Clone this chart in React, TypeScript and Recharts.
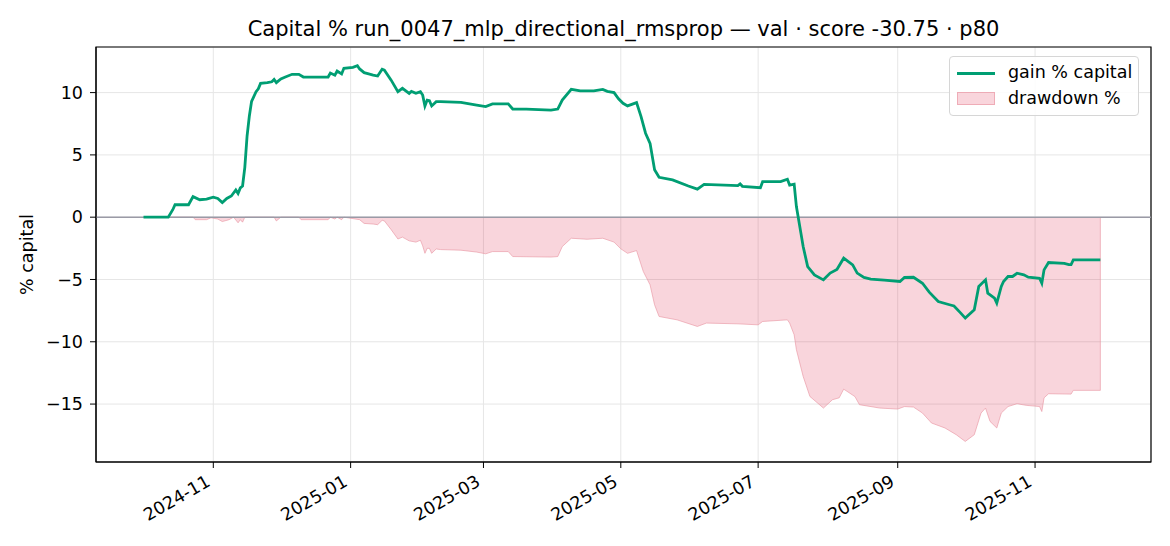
import React from "react";
import {
  ComposedChart,
  Line,
  Area,
  XAxis,
  YAxis,
  CartesianGrid,
  ReferenceLine,
  ReferenceArea,
} from "recharts";

// gain line
const GAIN_DATES = [
  "2024-10-01", "2024-10-12", "2024-10-14", "2024-10-15", "2024-10-21", "2024-10-23", "2024-10-26", "2024-10-29",
  "2024-11-01", "2024-11-03", "2024-11-05", "2024-11-07", "2024-11-09", "2024-11-11", "2024-11-12", "2024-11-13",
  "2024-11-14", "2024-11-15", "2024-11-16", "2024-11-17", "2024-11-18", "2024-11-20", "2024-11-21", "2024-11-22",
  "2024-11-25", "2024-11-27", "2024-11-28", "2024-11-29", "2024-12-01", "2024-12-03", "2024-12-06", "2024-12-09",
  "2024-12-11", "2024-12-22", "2024-12-23", "2024-12-25", "2024-12-26", "2024-12-28", "2024-12-29", "2025-01-02",
  "2025-01-04", "2025-01-05", "2025-01-07", "2025-01-09", "2025-01-11", "2025-01-13", "2025-01-15", "2025-01-16",
  "2025-01-19", "2025-01-22", "2025-01-24", "2025-01-27", "2025-01-28", "2025-01-30", "2025-02-01", "2025-02-02",
  "2025-02-03", "2025-02-04", "2025-02-05", "2025-02-06", "2025-02-08", "2025-02-10", "2025-02-19", "2025-02-26",
  "2025-03-02", "2025-03-05", "2025-03-12", "2025-03-14", "2025-03-20", "2025-03-31", "2025-04-03", "2025-04-05",
  "2025-04-09", "2025-04-13", "2025-04-19", "2025-04-23", "2025-04-25", "2025-04-28", "2025-04-30", "2025-05-02",
  "2025-05-04", "2025-05-08", "2025-05-10", "2025-05-12", "2025-05-14", "2025-05-16", "2025-05-18", "2025-05-24",
  "2025-05-31", "2025-06-04", "2025-06-07", "2025-06-22", "2025-06-23", "2025-06-24", "2025-07-02", "2025-07-03",
  "2025-07-11", "2025-07-14", "2025-07-15", "2025-07-17", "2025-07-18", "2025-07-20", "2025-07-21", "2025-07-23",
  "2025-07-26", "2025-07-30", "2025-08-02", "2025-08-05", "2025-08-08", "2025-08-12", "2025-08-14", "2025-08-17",
  "2025-08-20", "2025-08-26", "2025-09-02", "2025-09-04", "2025-09-08", "2025-09-12", "2025-09-15", "2025-09-19",
  "2025-09-24", "2025-09-26", "2025-09-29", "2025-10-01", "2025-10-05", "2025-10-07", "2025-10-10", "2025-10-11",
  "2025-10-14", "2025-10-15", "2025-10-17", "2025-10-18", "2025-10-20", "2025-10-22", "2025-10-24", "2025-10-27",
  "2025-10-29", "2025-11-03", "2025-11-04", "2025-11-05", "2025-11-07", "2025-11-14", "2025-11-16", "2025-11-17",
  "2025-11-18", "2025-11-30",
];
const GAIN_PCT = [
  0, 0, 0.6, 1.0, 1.0, 1.65, 1.4, 1.45,
  1.6, 1.5, 1.17, 1.5, 1.7, 2.19, 1.9, 2.35,
  2.5, 4.0, 6.5, 8.1, 9.3, 10.07, 10.3, 10.74,
  10.8, 10.87, 11.05, 10.8, 11.1, 11.25, 11.47, 11.47,
  11.25, 11.25, 11.57, 11.4, 11.73, 11.5, 11.95, 12.03,
  12.16, 11.9, 11.6, 11.5, 11.4, 11.33, 11.87, 11.8,
  11.0, 10.07, 10.34, 9.94, 10.1, 9.94, 10.07, 9.8,
  8.93, 9.4, 9.35, 8.93, 9.27, 9.27, 9.22, 9.0,
  8.88, 9.09, 9.09, 8.68, 8.68, 8.6, 8.68, 9.4,
  10.26, 10.14, 10.14, 10.26, 10.1, 10.0, 9.5, 9.14,
  8.93, 9.2, 8.07, 6.74, 5.93, 3.8, 3.2, 2.99,
  2.5, 2.25, 2.64, 2.54, 2.68, 2.48, 2.37, 2.85,
  2.85, 3.05, 2.58, 2.65, 0.85, -1.28, -2.36, -3.96,
  -4.63, -5.03, -4.49, -4.2, -3.29, -3.83, -4.49, -4.84,
  -4.97, -5.05, -5.16, -4.84, -4.82, -5.3, -6.02, -6.77,
  -7.03, -7.13, -7.7, -8.1, -7.43, -5.56, -5.03, -6.1,
  -6.5, -6.9, -5.56, -5.16, -4.76, -4.76, -4.5, -4.63,
  -4.82, -4.9, -5.3, -4.23, -3.64, -3.7, -3.8, -3.8,
  -3.42, -3.42,
];

// drawdown fill
const DD_DATES = [
  "2024-10-01", "2024-10-23", "2024-10-24", "2024-10-29", "2024-10-31", "2024-11-03", "2024-11-05", "2024-11-08",
  "2024-11-10", "2024-11-12", "2024-11-13", "2024-11-14", "2024-11-15", "2024-11-28", "2024-11-29", "2024-12-01",
  "2024-12-09", "2024-12-10", "2024-12-22", "2024-12-23", "2024-12-25", "2024-12-26", "2024-12-28", "2024-12-29",
  "2025-01-05", "2025-01-07", "2025-01-11", "2025-01-13", "2025-01-15", "2025-01-16", "2025-01-19", "2025-01-22",
  "2025-01-24", "2025-01-27", "2025-01-30", "2025-02-01", "2025-02-02", "2025-02-03", "2025-02-04", "2025-02-05",
  "2025-02-06", "2025-02-08", "2025-02-10", "2025-02-19", "2025-02-26", "2025-03-02", "2025-03-05", "2025-03-12",
  "2025-03-14", "2025-03-31", "2025-04-03", "2025-04-05", "2025-04-09", "2025-04-16", "2025-04-23", "2025-04-28",
  "2025-05-01", "2025-05-04", "2025-05-08", "2025-05-11", "2025-05-14", "2025-05-16", "2025-05-18", "2025-05-26",
  "2025-06-04", "2025-06-08", "2025-06-22", "2025-07-01", "2025-07-03", "2025-07-14", "2025-07-15", "2025-07-17",
  "2025-07-18", "2025-07-21", "2025-07-24", "2025-07-30", "2025-08-03", "2025-08-06", "2025-08-08", "2025-08-13",
  "2025-08-15", "2025-08-24", "2025-09-01", "2025-09-04", "2025-09-08", "2025-09-12", "2025-09-16", "2025-09-22",
  "2025-09-27", "2025-10-01", "2025-10-05", "2025-10-08", "2025-10-10", "2025-10-12", "2025-10-15", "2025-10-17",
  "2025-10-20", "2025-10-24", "2025-10-28", "2025-11-03", "2025-11-04", "2025-11-05", "2025-11-07", "2025-11-17",
  "2025-11-18", "2025-11-30", "2025-11-30",
];
const DD_PCT = [
  0, 0, -0.2, -0.2, -0.05, -0.15, -0.35, -0.2,
  0, -0.45, -0.2, -0.4, 0, 0, -0.3, 0,
  0, -0.2, -0.2, 0, -0.15, 0, -0.2, 0,
  -0.2, -0.5, -0.55, -0.6, -0.25, -0.3, -1.0, -1.75,
  -1.6, -1.9, -2.0, -1.85, -2.3, -2.9, -2.5, -2.5,
  -2.9, -2.55, -2.6, -2.65, -2.8, -2.94, -2.76, -2.76,
  -3.16, -3.2, -3.16, -2.36, -1.69, -1.77, -1.69, -2.0,
  -2.54, -2.9, -2.68, -4.36, -5.43, -7.03, -7.97, -8.24,
  -8.77, -8.5, -8.56, -8.64, -8.37, -8.24, -8.5, -9.44,
  -10.64, -12.78, -14.39, -15.32, -14.65, -14.5, -13.8, -14.4,
  -15.05, -15.32, -15.4, -15.2, -15.24, -15.72, -16.52, -16.92,
  -17.46, -18.0, -17.46, -15.72, -15.32, -16.39, -16.92, -15.72,
  -15.2, -14.97, -15.1, -15.2, -15.6, -14.5, -14.17, -14.2,
  -13.9, -13.9, 0,
];

const X_TICKS = ["2024-11-01", "2025-01-01", "2025-03-01", "2025-05-01", "2025-07-01", "2025-09-01", "2025-11-01"];
const Y_TICKS = [-15, -10, -5, 0, 5, 10];

const DAY = 86400000;
const ts = (s: string) => Date.parse(s + "T00:00:00Z");

const gainRows = GAIN_DATES.map((d, i) => ({ t: ts(d), gain: GAIN_PCT[i] }));
const ddRows = DD_DATES.map((d, i) => ({ t: ts(d), dd: DD_PCT[i] }));

const X_MIN = ts("2024-11-01") - 52.1 * DAY;
const X_MAX = ts("2025-11-01") + 51.5 * DAY;
const Y_MIN = -19.65;
const Y_MAX = 13.66;

const GREEN = "#009E73";
const FONT = "'DejaVu Sans', sans-serif";

const monthLabel = (v: number) => {
  const d = new Date(v);
  return `${d.getUTCFullYear()}-${String(d.getUTCMonth() + 1).padStart(2, "0")}`;
};
const yLabel = (v: number) => (v < 0 ? `\u2212${Math.abs(v)}` : `${v}`);

function DateTick(props: any) {
  const { x, y, payload } = props;
  const ax = x - 2;
  const ay = y + 15;
  return (
    <text x={ax} y={ay} textAnchor="end" fontSize={17.5} fill="#000" fontFamily={FONT}
      transform={`rotate(-30 ${ax} ${ay})`}>
      {monthLabel(payload.value)}
    </text>
  );
}

function YTitle() {
  return (
    <text x={33} y={254.5} textAnchor="middle" fontSize={17.5} fill="#000" fontFamily={FONT}
      transform="rotate(-90 33 254.5)">
      % capital
    </text>
  );
}

export default function App() {
  return (
    <div style={{ position: "absolute", left: 0, top: 0, width: 1170, height: 546, background: "#fff", fontFamily: FONT }}>
      <div style={{ position: "absolute", left: 96, top: 19, width: 1055, textAlign: "center", fontSize: 21, lineHeight: "21px", color: "#000", whiteSpace: "nowrap" }}>
        Capital % run_0047_mlp_directional_rmsprop — val · score -30.75 · p80
      </div>
      <ComposedChart width={1170} height={546} margin={{ top: 47, right: 19, bottom: 14, left: 0 }}>
        <CartesianGrid stroke="#e6e6e6" strokeWidth={1} />
        <XAxis
          dataKey="t"
          type="number"
          domain={[X_MIN, X_MAX]}
          allowDataOverflow
          ticks={X_TICKS.map(ts)}
          tick={<DateTick />}
          tickSize={6}
          height={70}
          stroke="#000"
          interval={0}
        />
        <YAxis
          type="number"
          domain={[Y_MIN, Y_MAX]}
          allowDataOverflow
          ticks={Y_TICKS}
          tickFormatter={yLabel}
          tick={{ fill: "#000", fontSize: 17.5, fontFamily: FONT }}
          tickSize={6}
          tickMargin={7}
          width={96}
          stroke="#000"
          interval={0}
          label={<YTitle />}
        />
        <Area
          data={ddRows}
          dataKey="dd"
          type="linear"
          baseValue={0}
          fill="#dc143c"
          fillOpacity={0.18}
          stroke="#e8919f"
          strokeOpacity={0.6}
          strokeWidth={1}
          dot={false}
          activeDot={false}
          isAnimationActive={false}
        />
        <ReferenceLine y={0} stroke="#9a9aa6" strokeWidth={1.4} />
        <Line
          data={gainRows}
          dataKey="gain"
          type="linear"
          stroke={GREEN}
          strokeWidth={2.8}
          dot={false}
          activeDot={false}
          isAnimationActive={false}
        />
        <ReferenceArea x1={X_MIN} x2={X_MAX} y1={Y_MIN} y2={Y_MAX} fill="none" stroke="#000" strokeWidth={1.2} ifOverflow="visible" />
      </ComposedChart>
      <div style={{ position: "absolute", left: 949, top: 56, width: 190, height: 60, boxSizing: "border-box", border: "1.5px solid #d6d6d6", borderRadius: 4, background: "rgba(255,255,255,0.85)", fontSize: 17.5, color: "#000" }}>
        <div style={{ position: "absolute", left: 7, top: 14.5, width: 38, height: 3, background: GREEN }} />
        <div style={{ position: "absolute", left: 58, top: 4, lineHeight: "22px", whiteSpace: "nowrap" }}>gain % capital</div>
        <div style={{ position: "absolute", left: 7, top: 34.5, width: 38, height: 13, boxSizing: "border-box", background: "rgba(220,20,60,0.18)", border: "1px solid rgba(232,145,159,0.6)" }} />
        <div style={{ position: "absolute", left: 58, top: 30, lineHeight: "22px", whiteSpace: "nowrap" }}>drawdown %</div>
      </div>
    </div>
  );
}
